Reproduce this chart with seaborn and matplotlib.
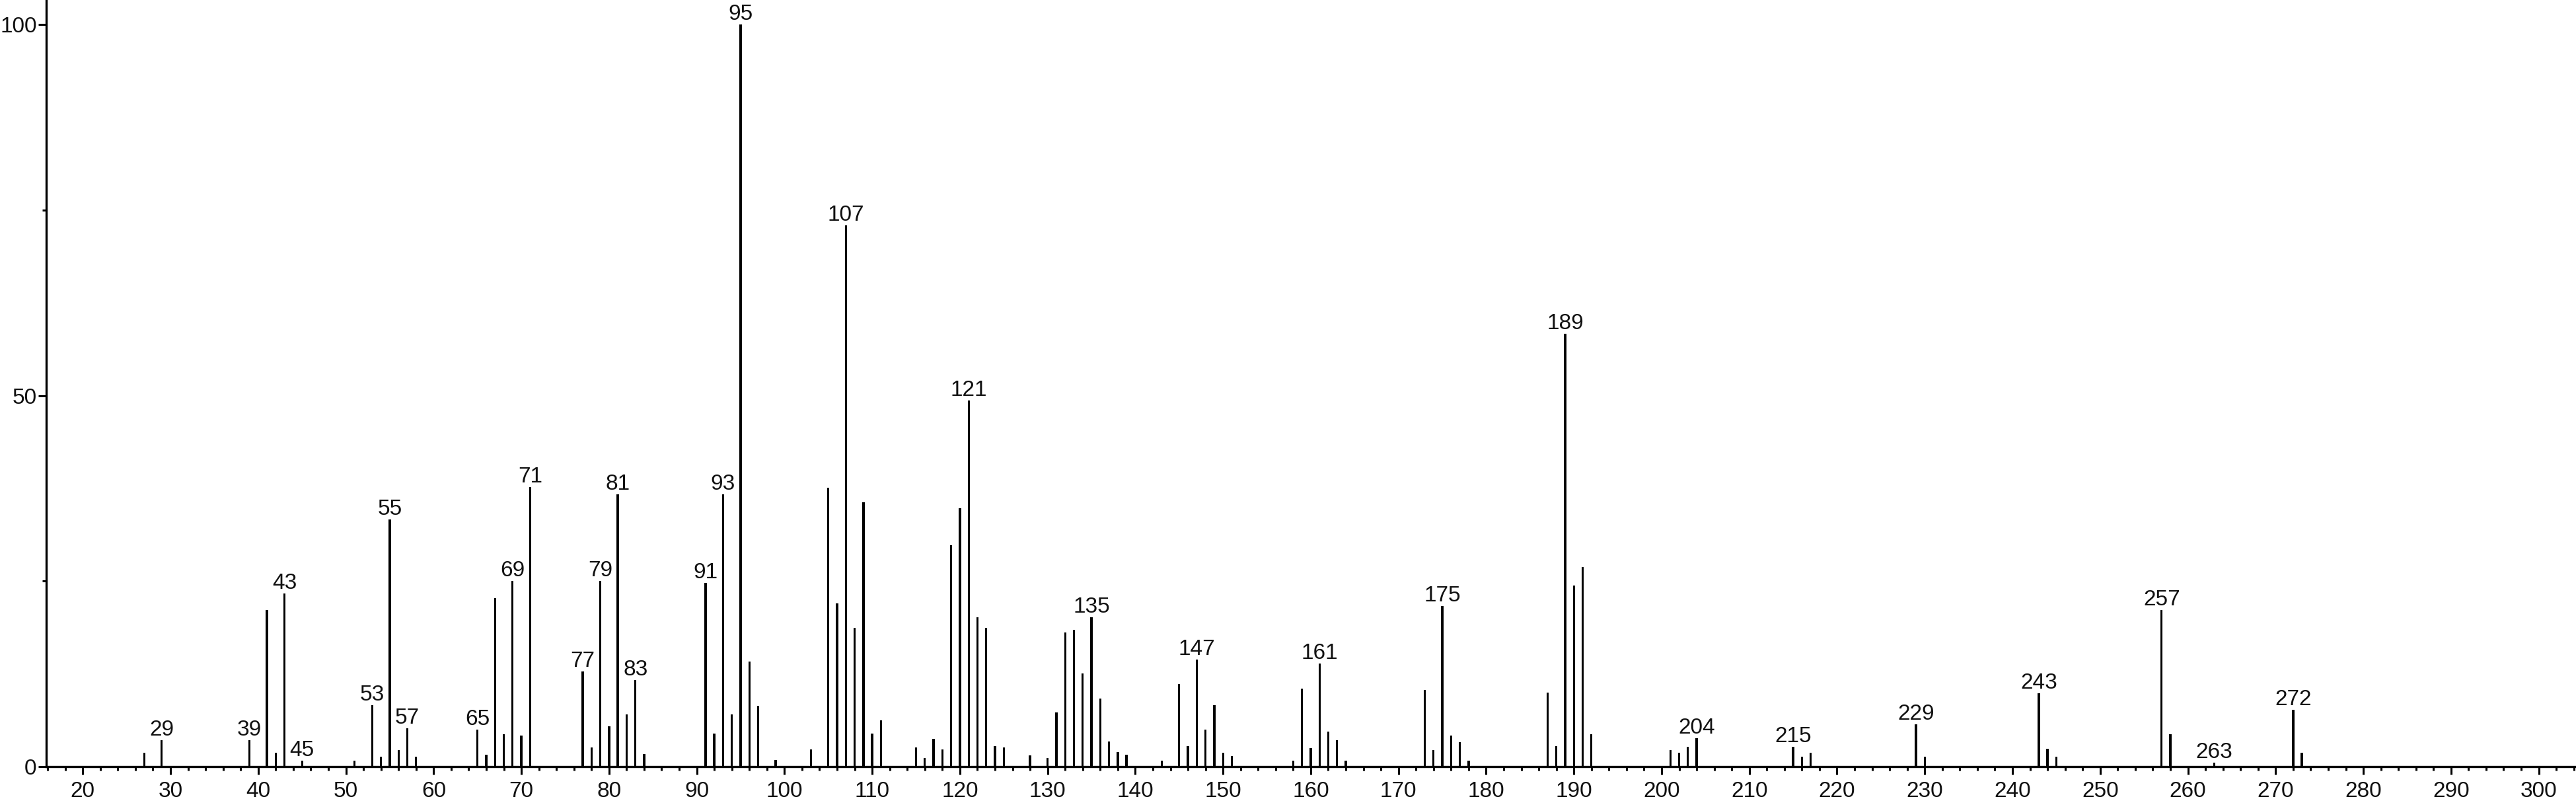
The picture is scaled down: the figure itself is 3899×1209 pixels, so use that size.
import numpy as np
import pandas as pd
import matplotlib
matplotlib.use("Agg")
import matplotlib.pyplot as plt
import seaborn as sns
from matplotlib.ticker import MultipleLocator, FixedLocator

# ---- spectrum data (m/z, relative intensity) ----
mz = [27, 29, 39, 41, 42, 43, 45, 51, 53, 54, 55, 56, 57, 58,
      65, 66, 67, 68, 69, 70, 71, 77, 78, 79, 80, 81, 82, 83, 84,
      91, 92, 93, 94, 95, 96, 97, 99, 103, 105, 106, 107, 108, 109, 110, 111,
      115, 116, 117, 118, 119, 120, 121, 122, 123, 124, 125, 128, 130,
      131, 132, 133, 134, 135, 136, 137, 138, 139, 143,
      145, 146, 147, 148, 149, 150, 151, 158, 159, 160, 161, 162, 163, 164,
      173, 174, 175, 176, 177, 178, 187, 188, 189, 190, 191, 192,
      201, 202, 203, 204, 215, 216, 217, 229, 230, 243, 244, 245,
      257, 258, 263, 272, 273]
intensity = [1.9, 3.6, 3.6, 21.1, 1.9, 23.3, 0.8, 0.8, 8.3, 1.3, 33.3, 2.2, 5.2, 1.3,
             5.0, 1.6, 22.7, 4.4, 25.0, 4.2, 37.7, 12.8, 2.6, 25.0, 5.4, 36.7, 7.0, 11.7, 1.7,
             24.8, 4.5, 36.7, 7.0, 100.0, 14.2, 8.2, 0.9, 2.3, 37.6, 22.0, 72.9, 18.7, 35.6, 4.5, 6.2,
             2.6, 1.2, 3.7, 2.3, 29.8, 34.8, 49.3, 20.1, 18.7, 2.8, 2.6, 1.5, 1.2,
             7.3, 18.1, 18.4, 12.6, 20.1, 9.2, 3.4, 2.0, 1.6, 0.8,
             11.1, 2.8, 14.4, 5.0, 8.3, 1.9, 1.4, 0.8, 10.5, 2.5, 13.9, 4.7, 3.6, 0.8,
             10.3, 2.2, 21.6, 4.2, 3.3, 0.8, 10.0, 2.8, 58.3, 24.4, 26.9, 4.4,
             2.2, 1.9, 2.7, 3.8, 2.7, 1.3, 1.9, 5.7, 1.3, 9.9, 2.4, 1.3,
             21.1, 4.4, 0.5, 7.7, 1.9]

labeled = [29, 39, 43, 45, 53, 55, 57, 65, 69, 71, 77, 79, 81, 83, 91, 93, 95,
           107, 121, 135, 147, 161, 175, 189, 204, 215, 229, 243, 257, 263, 272]

x_major = list(range(20, 301, 10))
y_major = [0, 50, 100]
y_minor = [25, 75]

df = pd.DataFrame({"mz": mz, "intensity": intensity})

sns.set_style("ticks")
plt.rcParams["font.family"] = ["Liberation Sans", "DejaVu Sans"]

fig = plt.figure(figsize=(38.99, 12.09), dpi=100)
ax = fig.add_axes([0.018, 0.0405, 0.982, 0.9595])

sns.barplot(data=df, x="mz", y="intensity", native_scale=True, color="black",
            saturation=1, width=0.25, errorbar=None, linewidth=0, ax=ax)

# peak labels, sitting just above each stick
for m in labeled:
    h = df.loc[df.mz == m, "intensity"].iloc[0]
    ax.annotate(str(m), (m, h), xytext=(0, 0), textcoords="offset points",
                ha="center", va="bottom", fontsize=24, color="#111111")

ax.set_xlim(15.85, 304.25)
ax.set_ylim(0, 103.3)

ax.xaxis.set_major_locator(FixedLocator(x_major))
ax.xaxis.set_minor_locator(MultipleLocator(2))
ax.set_xticklabels([str(v) for v in x_major])
ax.yaxis.set_major_locator(FixedLocator(y_major))
ax.yaxis.set_minor_locator(FixedLocator(y_minor))
ax.set_yticklabels([str(v) for v in y_major])

ax.tick_params(axis="both", which="major", length=8.5, width=2.2, labelsize=24,
               color="black", labelcolor="#111111")
ax.tick_params(axis="x", which="major", pad=7)
ax.tick_params(axis="y", which="major", pad=2)
ax.tick_params(axis="both", which="minor", length=4.5, width=2.2, color="black")

sns.despine(ax=ax)
for s in ["left", "bottom"]:
    ax.spines[s].set_linewidth(2.4)
    ax.spines[s].set_color("black")

ax.set_xlabel("")
ax.set_ylabel("")

fig.savefig("out.png", dpi=100, facecolor="white")
